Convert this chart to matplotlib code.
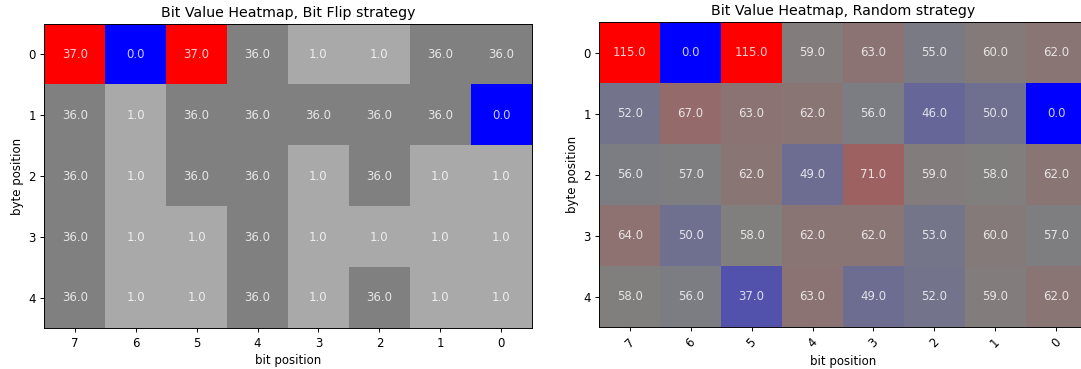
import numpy as np
import matplotlib.pyplot as plt
from matplotlib.colors import LinearSegmentedColormap, ListedColormap, BoundaryNorm

bit_labels = [7, 6, 5, 4, 3, 2, 1, 0]
byte_labels = [0, 1, 2, 3, 4]

bitflip_counts = np.array([
    [37, 0, 37, 36, 1, 1, 36, 36],
    [36, 1, 36, 36, 36, 36, 36, 0],
    [36, 1, 36, 36, 1, 36, 1, 1],
    [36, 1, 1, 36, 1, 1, 1, 1],
    [36, 1, 1, 36, 1, 36, 1, 1],
], dtype=float)

random_counts = np.array([
    [115, 0, 115, 59, 63, 55, 60, 62],
    [52, 67, 63, 62, 56, 46, 50, 0],
    [56, 57, 62, 49, 71, 59, 58, 62],
    [64, 50, 58, 62, 62, 53, 60, 57],
    [58, 56, 37, 63, 49, 52, 59, 62],
], dtype=float)

# bit flip: only four distinct levels, so a stepped colour scale
flip_cmap = ListedColormap(['blue', 'darkgray', 'gray', 'red'])
flip_norm = BoundaryNorm([-0.5, 0.5, 18.5, 36.5, 37.5], flip_cmap.N)

# random: blue -> gray -> red over the full range
rand_cmap = LinearSegmentedColormap.from_list('bgr', ['blue', 'gray', 'red'])

W, H = 1081, 369
DPI = 85
fig = plt.figure(figsize=(W / DPI, H / DPI), dpi=DPI)
ax1 = fig.add_axes([44.3 / W, (H - 328.3) / H, 487.4 / W, 304.3 / H])
ax2 = fig.add_axes([599.3 / W, (H - 327.3) / H, 487.4 / W, 305.0 / H])


def draw(ax, data, cmap, norm, title, rotate):
    ax.imshow(data, cmap=cmap, norm=norm, aspect='auto', interpolation='nearest')
    for i in range(data.shape[0]):
        for j in range(data.shape[1]):
            ax.text(j, i, f'{data[i, j]:.1f}', ha='center', va='center',
                    color='white', alpha=0.8, fontsize=10)
    ax.set_xticks(range(len(bit_labels)))
    ax.set_xticklabels(bit_labels, rotation=45 if rotate else 0)
    ax.set_yticks(range(len(byte_labels)))
    ax.set_yticklabels(byte_labels)
    ax.set_xlabel('bit position')
    ax.set_ylabel('byte position')
    ax.set_title(title)


draw(ax1, bitflip_counts, flip_cmap, flip_norm, 'Bit Value Heatmap, Bit Flip strategy', False)
draw(ax2, random_counts, rand_cmap, plt.Normalize(0, 115), 'Bit Value Heatmap, Random strategy', True)

plt.savefig('out.png', dpi=DPI)
